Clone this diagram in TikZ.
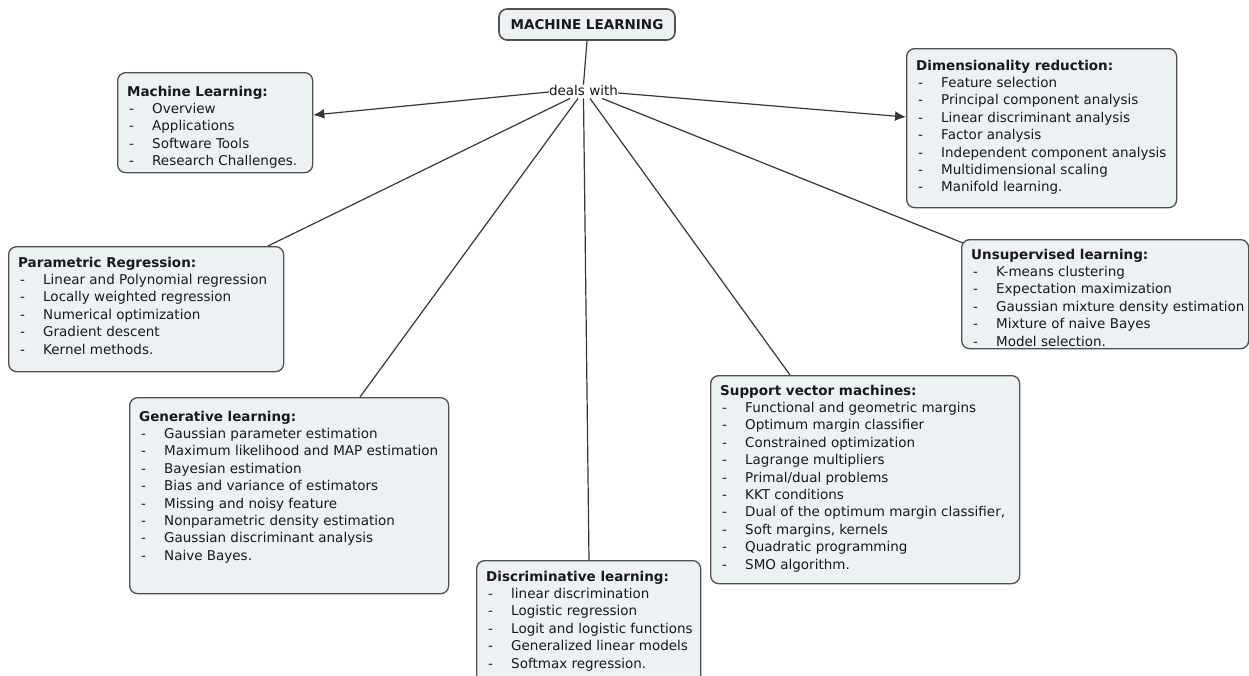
\documentclass[tikz,border=0pt]{standalone}
\usepackage{fontspec}
\setmainfont{DejaVu Sans}
\usetikzlibrary{arrows.meta,calc}

\definecolor{boxfill}{RGB}{236,241,244}
\definecolor{boxline}{RGB}{80,80,80}
\definecolor{linkcol}{RGB}{55,55,55}
\definecolor{txt}{RGB}{25,25,25}

% title line and bulleted item line inside a topic box
\newcommand\ttl[1]{\hbox{\bfseries #1}}
\newcommand\itm[1]{\hbox{\hspace*{2pt}\makebox[23pt][l]{-}#1}}

\begin{document}
\begin{tikzpicture}[x=1pt,y=-1pt,
  topicbox/.style={draw=boxline, fill=boxfill, line width=1.3pt,
    rounded corners=8pt, anchor=north west, inner sep=0pt},
  topictext/.style={anchor=base west, inner sep=0pt, text=txt,
    font=\fontsize{13.5}{17.4}\selectfont},
  link/.style={draw=linkcol, line width=1.2pt},
  tip/.style={-{Latex[length=11pt,width=10pt]}}]

\clip (0,0) rectangle (1249,675);
\fill[white] (0,0) rectangle (1249,675);

% central concept and linking phrase
\node[draw=boxline, fill=boxfill, line width=1.6pt, rounded corners=8pt,
  minimum width=176pt, minimum height=31pt, text=txt,
  font=\bfseries\fontsize{13.5}{16}\selectfont] (root) at (587,24.5) {MACHINE LEARNING};
\node[inner sep=0pt, text=txt, font=\fontsize{13.5}{16}\selectfont] (dw) at (583.5,90) {deals with};

% topic boxes
\node[topicbox, minimum width=195pt, minimum height=100pt] (ml) at (117,72) {};
\node[topictext] (ml-t) at ($(ml.north west)+(10,24)$) {\vtop{%
  \ttl{Machine Learning:}\itm{Overview}\itm{Applications}\itm{Software Tools}%
  \itm{Research Challenges.}}};

\node[topicbox, minimum width=270pt, minimum height=159pt] (dim) at (906,48) {};
\node[topictext] (dim-t) at ($(dim.north west)+(10,22)$) {\vtop{%
  \ttl{Dimensionality reduction:}\itm{Feature selection}\itm{Principal component analysis}%
  \itm{Linear discriminant analysis}\itm{Factor analysis}%
  \itm{Independent component analysis}\itm{Multidimensional scaling}\itm{Manifold learning.}}};

\node[topicbox, minimum width=275pt, minimum height=125pt] (pr) at (8,246) {};
\node[topictext] (pr-t) at ($(pr.north west)+(10,21)$) {\vtop{%
  \ttl{Parametric Regression:}\itm{Linear and Polynomial regression}%
  \itm{Locally weighted regression}\itm{Numerical optimization}\itm{Gradient descent}%
  \itm{Kernel methods.}}};

\node[topicbox, minimum width=287pt, minimum height=109pt] (un) at (961,239) {};
\node[topictext] (un-t) at ($(un.north west)+(10,20)$) {\vtop{%
  \ttl{Unsupervised learning:}\itm{K-means clustering}\itm{Expectation maximization}%
  \itm{Gaussian mixture density estimation}\itm{Mixture of naive Bayes}%
  \itm{Model selection.}}};

\node[topicbox, minimum width=319pt, minimum height=196pt] (gen) at (129,397) {};
\node[topictext] (gen-t) at ($(gen.north west)+(10,24)$) {\vtop{%
  \ttl{Generative learning:}\itm{Gaussian parameter estimation}%
  \itm{Maximum likelihood and MAP estimation}\itm{Bayesian estimation}%
  \itm{Bias and variance of estimators}\itm{Missing and noisy feature}%
  \itm{Nonparametric density estimation}\itm{Gaussian discriminant analysis}%
  \itm{Naive Bayes.}}};

\node[topicbox, minimum width=224pt, minimum height=130pt] (dis) at (476,560) {};
\node[topictext] (dis-t) at ($(dis.north west)+(10,21)$) {\vtop{%
  \ttl{Discriminative learning:}\itm{linear discrimination}\itm{Logistic regression}%
  \itm{Logit and logistic functions}\itm{Generalized linear models}%
  \itm{Softmax regression.}}};

\node[topicbox, minimum width=309pt, minimum height=208pt] (svm) at (710,375) {};
\node[topictext] (svm-t) at ($(svm.north west)+(10,20)$) {\vtop{%
  \ttl{Support vector machines:}\itm{Functional and geometric margins}%
  \itm{Optimum margin classifier}\itm{Constrained optimization}%
  \itm{Lagrange multipliers}\itm{Primal/dual problems}\itm{KKT conditions}%
  \itm{Dual of the optimum margin classifier,}\itm{Soft margins, kernels}%
  \itm{Quadratic programming}\itm{SMO algorithm.}}};

% connectors
\draw[link] (root.south) -- (dw.north);
\draw[link,tip] ([yshift=-2pt]dw.west) -- ([yshift=-43pt]ml.north east);
\draw[link,tip] ([yshift=-3pt]dw.east) -- ([yshift=-69pt]dim.north west);
\draw[link] ([xshift=-13.5pt,yshift=-3pt]dw.south) -- ([xshift=260pt]pr.north west);
\draw[link] ([xshift=-5.5pt,yshift=-3pt]dw.south) -- ([xshift=231pt]gen.north west);
\draw[link] ([yshift=-3pt]dw.south) -- ([xshift=113pt]dis.north west);
\draw[link] ([xshift=6.5pt,yshift=-3pt]dw.south) -- ([xshift=80pt]svm.north west);
\draw[link] ([xshift=18.5pt,yshift=-3pt]dw.south) -- ([xshift=2pt,yshift=-4pt]un.north west);
\end{tikzpicture}
\end{document}
